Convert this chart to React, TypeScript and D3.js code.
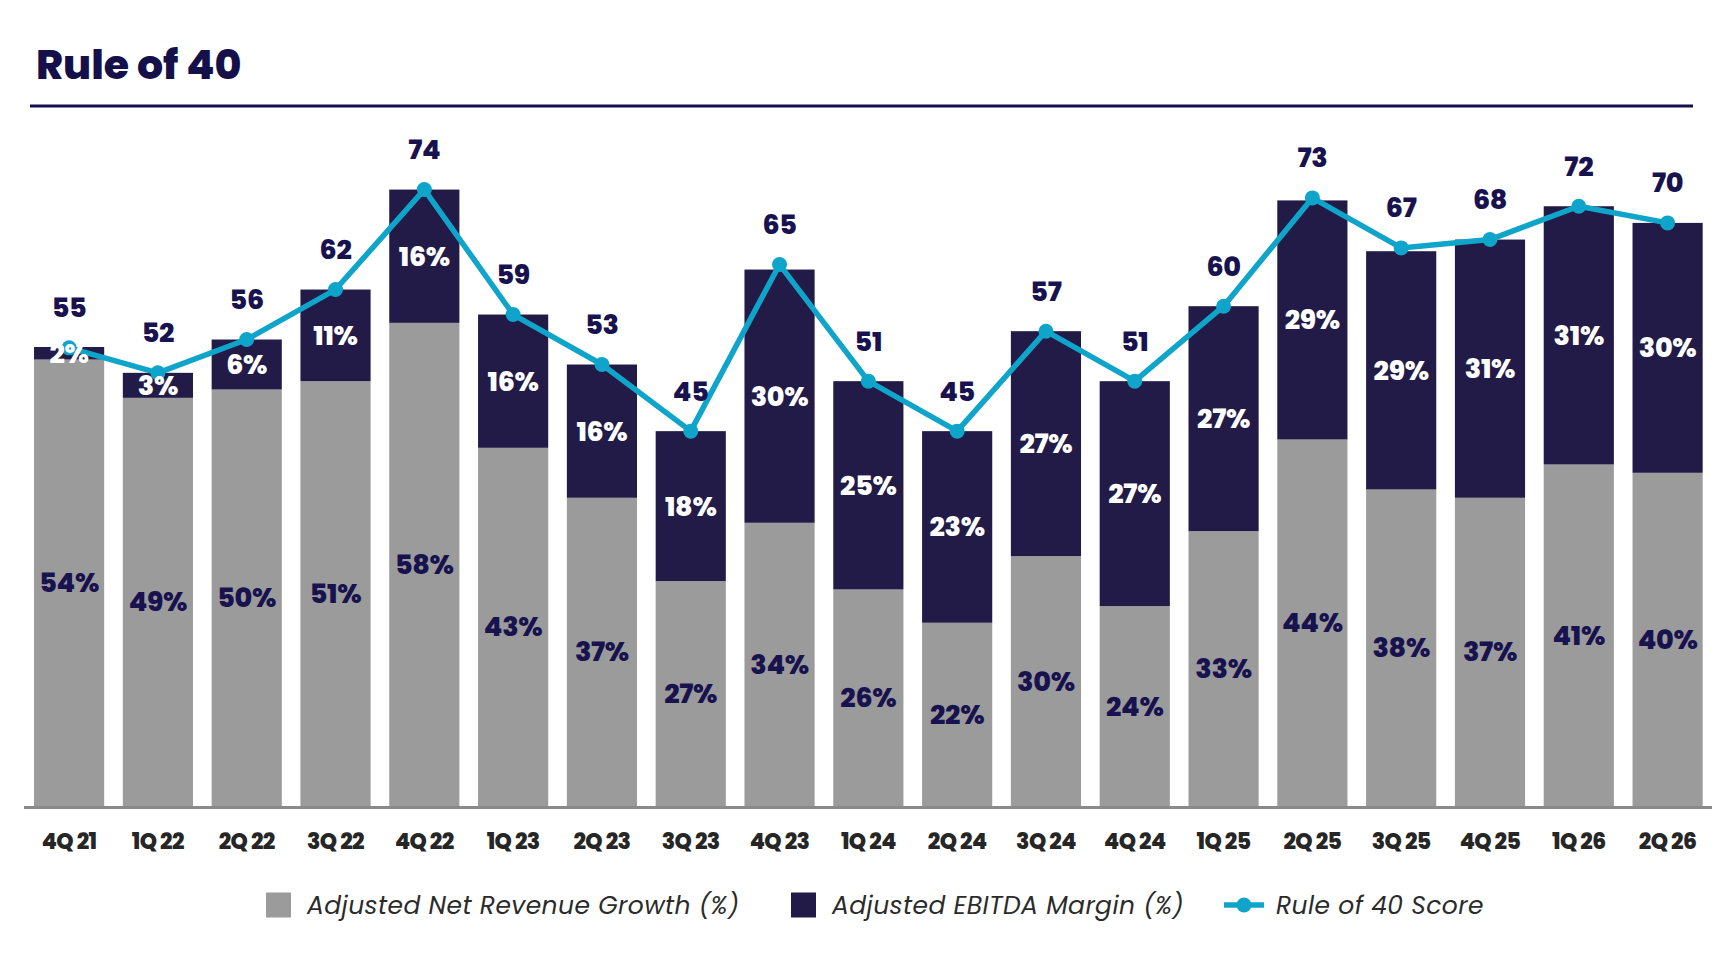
import { useEffect, useRef } from "react";
import * as d3 from "d3";

const quarters = [
    "4Q 21", "1Q 22", "2Q 22", "3Q 22", "4Q 22", "1Q 23", "2Q 23", "3Q 23", "4Q 23", "1Q 24",
    "2Q 24", "3Q 24", "4Q 24", "1Q 25", "2Q 25", "3Q 25", "4Q 25", "1Q 26", "2Q 26",
];
const revenueGrowth = [53.6, 49, 50, 51, 58, 43, 37, 27, 34, 26, 22, 30, 24, 33, 44, 38, 37, 41, 40];
const ebitdaMargin = [1.5, 3, 6, 11, 16, 16, 16, 18, 30.4, 25, 23, 27, 27, 27, 28.7, 28.6, 31, 31, 30];
const ruleOf40 = [55, 52, 56, 62, 74, 59, 53, 45, 65, 51, 45, 57, 51, 60, 73, 67, 68, 72, 70];

const legendItems = [
    { label: "Adjusted Net Revenue Growth (%)", kind: "gray" },
    { label: "Adjusted EBITDA Margin (%)", kind: "navy" },
    { label: "Rule of 40 Score", kind: "line" },
];

const GRAY = "#9b9b9b";
const NAVY = "#221a47";
const TEXT_NAVY = "#18124f";
const CYAN = "#0fa4c9";
const FONT = "Poppins, Inter, 'Noto Sans', sans-serif";

export default function App() {
    const svgRef = useRef<SVGSVGElement>(null);

    useEffect(() => {
        document.body.style.margin = "0";
        const svg = d3.select(svgRef.current);
        svg.selectAll("*").remove();

        // Title + rule
        svg.append("text")
            .attr("x", 36)
            .attr("y", 79)
            .attr("font-family", FONT)
            .attr("font-weight", 800)
            .attr("font-size", 41)
            .attr("fill", "#15104a")
            .text("Rule of 40");

        svg.append("line")
            .attr("x1", 30).attr("x2", 1693)
            .attr("y1", 106).attr("y2", 106)
            .attr("stroke", "#15104a")
            .attr("stroke-width", 3);

        const x = d3.scaleBand()
            .domain(quarters)
            .range([24.7, 1712])
            .paddingInner(0.21)
            .paddingOuter(0.105);

        const y = d3.scaleLinear()
            .domain([0, 80])
            .range([806, 139.6]);

        const rows = quarters.map((q, i) => ({
            q,
            growth: revenueGrowth[i],
            ebitda: ebitdaMargin[i],
            score: ruleOf40[i],
        }));

        const g = svg.append("g");

        // Gray bars
        g.selectAll(".bar-growth")
            .data(rows)
            .enter()
            .append("rect")
            .attr("x", d => x(d.q) || 0)
            .attr("width", x.bandwidth())
            .attr("y", d => y(d.growth))
            .attr("height", d => y(0) - y(d.growth))
            .attr("fill", GRAY);

        // Navy bars stacked on top
        g.selectAll(".bar-ebitda")
            .data(rows)
            .enter()
            .append("rect")
            .attr("x", d => x(d.q) || 0)
            .attr("width", x.bandwidth())
            .attr("y", d => y(d.growth + d.ebitda))
            .attr("height", d => y(d.growth) - y(d.growth + d.ebitda))
            .attr("fill", NAVY);

        // Axis line
        g.append("line")
            .attr("x1", 24).attr("x2", 1712)
            .attr("y1", y(0) + 1.5).attr("y2", y(0) + 1.5)
            .attr("stroke", "#8a8a8a")
            .attr("stroke-width", 3);

        // X labels
        const xAxis = g.append("g")
            .attr("transform", `translate(0,${y(0) + 2})`)
            .call(d3.axisBottom(x).tickSize(0).tickPadding(25));
        xAxis.select(".domain").remove();
        xAxis.selectAll("text")
            .attr("font-family", FONT)
            .attr("font-weight", 800)
            .attr("font-size", 22)
            .attr("letter-spacing", -0.6)
            .attr("fill", "#262626");

        // Rule of 40 line
        const cx = (d: typeof rows[number]) => (x(d.q) || 0) + x.bandwidth() / 2;
        const line = d3.line<typeof rows[number]>()
            .x(cx)
            .y(d => y(d.score));

        g.append("path")
            .datum(rows)
            .attr("fill", "none")
            .attr("stroke", CYAN)
            .attr("stroke-width", 5.5)
            .attr("stroke-linejoin", "round")
            .attr("d", line);

        g.selectAll(".dot")
            .data(rows)
            .enter()
            .append("circle")
            .attr("cx", cx)
            .attr("cy", d => y(d.score))
            .attr("r", 7.5)
            .attr("fill", CYAN);

        const label = (sel: d3.Selection<SVGTextElement, any, any, any>) =>
            sel.attr("text-anchor", "middle")
                .attr("dominant-baseline", "central")
                .attr("font-family", FONT)
                .attr("font-weight", 800)
                .attr("font-size", 27)
                .attr("letter-spacing", -0.3);

        // Growth labels
        g.selectAll(".lbl-growth")
            .data(rows)
            .enter()
            .append("text")
            .call(label)
            .attr("x", cx)
            .attr("y", d => y(d.growth / 2))
            .attr("fill", TEXT_NAVY)
            .text(d => `${Math.round(d.growth)}%`);

        // EBITDA labels
        g.selectAll(".lbl-ebitda")
            .data(rows)
            .enter()
            .append("text")
            .call(label)
            .attr("x", cx)
            .attr("y", d => y(d.growth + d.ebitda / 2))
            .attr("fill", "#ffffff")
            .text(d => `${Math.round(d.ebitda)}%`);

        // Score labels
        g.selectAll(".lbl-score")
            .data(rows)
            .enter()
            .append("text")
            .call(label)
            .attr("x", cx)
            .attr("y", d => y(d.score) - 40)
            .attr("fill", TEXT_NAVY)
            .text(d => `${d.score}`);

        // Legend
        const legendX = [266, 791, 1224];
        const legendY = 905;
        const lg = svg.append("g");
        legendItems.forEach((item, i) => {
            const lx = legendX[i];
            let tx = lx + 41;
            if (item.kind === "line") {
                lg.append("line")
                    .attr("x1", lx).attr("x2", lx + 40)
                    .attr("y1", legendY).attr("y2", legendY)
                    .attr("stroke", CYAN)
                    .attr("stroke-width", 5.5);
                lg.append("circle")
                    .attr("cx", lx + 20).attr("cy", legendY)
                    .attr("r", 7.5)
                    .attr("fill", CYAN);
                tx = lx + 52;
            } else {
                lg.append("rect")
                    .attr("x", lx).attr("y", legendY - 12.5)
                    .attr("width", 25).attr("height", 25)
                    .attr("fill", item.kind === "gray" ? GRAY : NAVY);
            }
            lg.append("text")
                .attr("x", tx)
                .attr("y", legendY)
                .attr("dominant-baseline", "central")
                .attr("font-family", FONT)
                .attr("font-style", "italic")
                .attr("font-size", 25)
                .attr("letter-spacing", 0.4)
                .attr("fill", "#2b2b2b")
                .text(item.label);
        });
    }, []);

    return (
        <div style={{ position: "absolute", left: 0, top: 0 }}>
            <svg ref={svgRef} width={1730} height={972} style={{ background: "#fff" }} />
        </div>
    );
}
